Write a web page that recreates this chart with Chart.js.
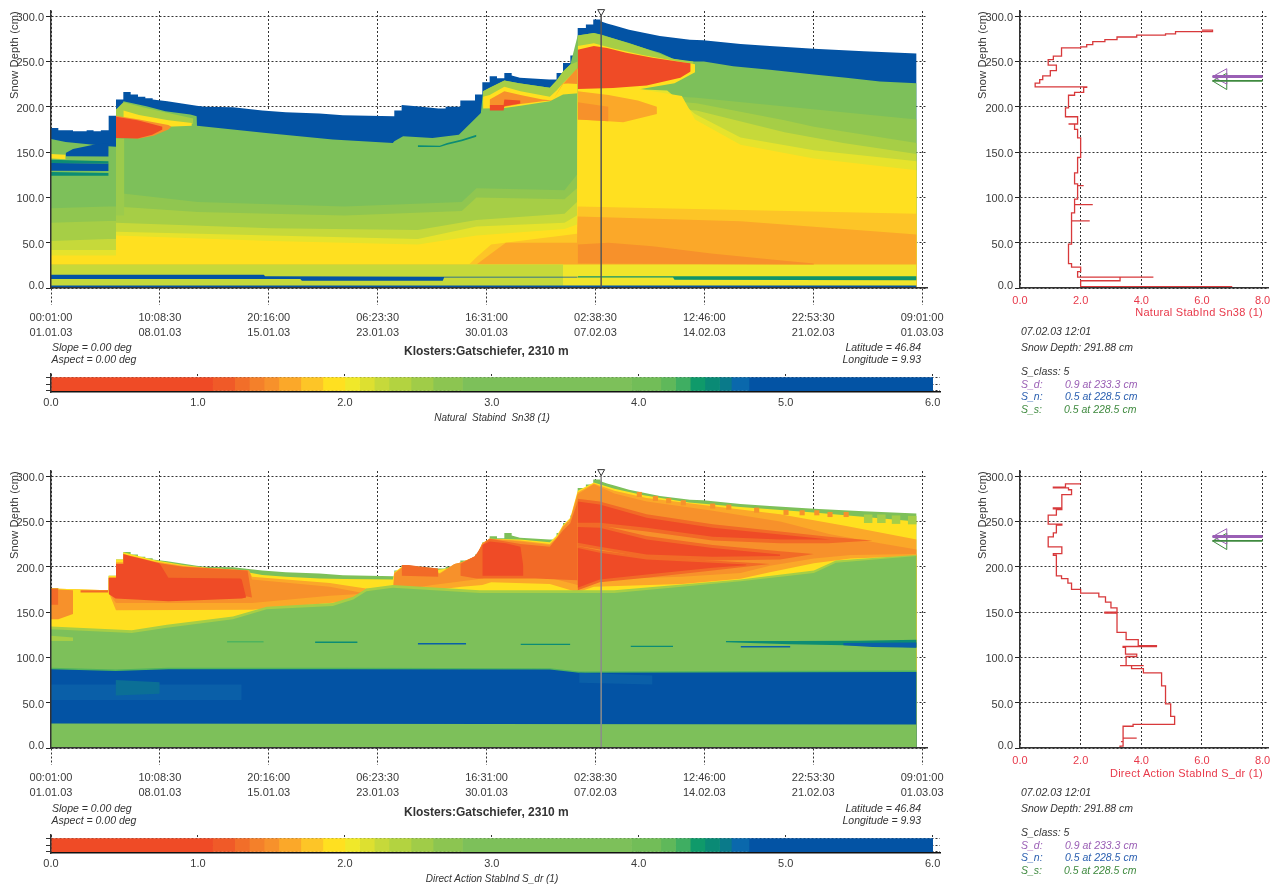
<!DOCTYPE html>
<html><head><meta charset="utf-8">
<script src="https://cdn.jsdelivr.net/npm/chart.js@4/dist/chart.umd.js"></script>
<style>
html,body{margin:0;padding:0;background:#fff;width:1276px;height:886px;overflow:hidden}
#page{position:relative;width:1276px;height:886px;font-family:"Liberation Sans",Arial,sans-serif;color:#333;filter:blur(.45px)}
canvas{position:absolute}
.t{position:absolute;white-space:pre;font-size:10.5px;line-height:12px;height:12px}
.i{font-style:italic}
</style></head><body><div id="page"></div>
<script>
// ---------- axis ticks ----------
const timeTickDays=[0,7.4219,14.8438,22.2656,29.6875,37.1094,44.5313,51.9531,59.375];
const timeTickClock=['00:01:00','10:08:30','20:16:00','06:23:30','16:31:00','02:38:30','12:46:00','22:53:30','09:01:00'];
const timeTickDate=['01.01.03','08.01.03','15.01.03','23.01.03','30.01.03','07.02.03','14.02.03','21.02.03','01.03.03'];
const depthTicks=[0,50,100,150,200,250,300];
const stabTicks=[0,2,4,6,8];
const colorbarTicks=[0,1,2,3,4,5,6];
const selectedDay=[37.5];

// ---------- colours ----------
const BLUE='#0353A4',MIDBLUE='#0A5FA8',TEAL='#0C8C74',DKGREEN='#4FB35E',GREEN='#7DC05A',G2='#90C650',LIME='#A6CE46',LIME2='#C6D93A',
      YEL0='#E6E32C',YEL='#FFE020',YEL2='#FDC527',ORG='#FBA829',ORG2='#F7912B',RED='#EF4B26',RED2='#F26A27';

// ---------- snow surface (day, depth cm) ----------
const surfaceDepth=[[0,176.7],[0.5,176.7],[0.5,174],[1.5,174],[1.5,173],[2.43,173],[2.43,174],[2.9,174],[2.9,173],[3.4,173],[3.4,174],[3.93,174],[3.93,190],[4.43,190],[4.43,208],[4.93,208],[4.93,216.4],[5.43,216.4],[5.43,213.5],[5.93,213.5],[5.93,211],[6.43,211],[6.43,209.4],[6.93,209.4],[6.93,208],[7.93,206],[8.93,203.5],[9.93,201],[10.45,200],[12.4,199.5],[14.4,196],[16,194],[18.3,192.5],[19.9,190.6],[23.4,189.5],[23.4,196],[23.9,196],[23.9,202],[24.9,200.5],[26.4,198],[26.9,198],[26.9,200],[27.9,200],[27.9,207],[28.9,207],[28.9,213.5],[29.4,213.5],[29.4,227],[29.9,227],[29.9,233.7],[30.4,233.7],[30.4,231.5],[30.9,231.5],[30.9,237.4],[31.4,237.4],[31.4,234.4],[31.96,232],[33.96,230],[34.46,230],[34.46,237.4],[34.9,237.4],[34.9,248.4],[35.4,248.4],[35.4,256.5],[35.9,256.5],[35.9,287],[36.46,287],[36.46,290.8],[36.96,290.8],[36.96,296.3],[37.46,296.3],[37.46,294.4],[37.9,292],[38.4,289.7],[39.4,285],[40.4,281.6],[41.5,278],[43.55,274],[44.46,273.5],[47,269.4],[49,267],[52,264],[55.4,261.3],[59,258.7]];

// ---------- Natural stability index Sn38: bands ----------
const snGreenTop=[[0,164.5],[1,161],[2.9,158],[3.9,156.5],[4.43,156],[4.43,197.6],[4.93,197.6],[4.93,206],[6.5,200.6],[7.8,195],[9.5,191.4],[9.93,189.5],[9.95,179],[14.66,171],[19.2,163.8],[23.3,160],[23.4,162],[24,167.5],[26,165.6],[27.8,169],[29.3,193],[29.45,217],[29.9,221],[30.9,229],[31.9,226],[34,221],[34.46,229],[34.9,239],[35.4,246.6],[35.9,278.6],[37,281.5],[37.5,279.7],[38.4,275],[39.4,270.5],[40.4,265],[41.5,259.5],[42.4,253],[43.4,250],[44.5,250],[46.5,244.8],[49,241],[52,235.5],[54.2,231.9],[56.5,228],[59,226]];
const snG2Top=[[0,88],[3.9,90],[4.38,90],[4.43,105],[10,95],[20,90],[28,95],[29,110],[35,108],[35.85,125],[35.9,218],[44,210],[59,186]];
const snLimeTop=[[0,72],[3.9,74],[4.38,74],[4.43,90],[10,84],[20,80],[28,85],[29,100],[35,98],[35.85,110],[35.9,215],[44,204],[50,185],[52,178],[59,160]];
const snLime2Top=[[0,52],[3.9,54],[4.38,54],[4.43,72],[15,66],[25,64],[29,75],[35,82],[35.85,95],[35.9,205],[44,196],[50,172],[54,160],[59,148]];
const snYel0Top=[[0,42],[3.9,42],[4.38,42],[4.43,62],[15,58],[25,54],[29,68],[35,72],[35.85,80],[35.9,222],[42,218],[43.9,192],[47,166],[52,152],[59,140]];
const snYelTop=[[0,36],[3.9,36],[4.38,36],[4.43,58],[15,52],[25,48],[29,58],[35,65],[35.85,70],[35.9,220],[40,220],[43,212],[43.9,186],[47,158],[52,143],[59,130]];
const snYel2Top=[[0,26],[28.5,26],[29,34],[30,48],[35.85,60],[35.9,90],[59,82]];
const snOrgTop=[[0,25.8],[29,25.8],[29.5,32],[31,50],[35.85,50],[35.9,79],[47,73.6],[59,59]];
const snBottomTop=[[0,25.8],[59,25.8]];
// lenses: [upper],[lower]
const snBottomLimeUp=[[0,25.8],[34.9,25.8]],snBottomLimeLow=[[0,2.6],[34.9,2.6]];
const snStripeUp=[[0,14.7],[14.5,14.5],[14.6,13],[26.7,12.5],[35.9,12.5]],snStripeLow=[[0,10],[17,10],[17.1,8],[26.7,8],[26.8,11.5],[35.9,11.5]];
const snStripe2Up=[[35.9,13],[59,13]],snStripe2Low=[[35.9,11.5],[42.4,11.5],[42.5,9],[59,8.5]];
const snBaseUp=[[0,2.8],[59,2.8]],snBaseLow=[[0,0],[59,0]];
const snOrg2Up=[[35.9,48],[38,50],[41,46],[45,38],[50,30],[52,27]],snOrg2Low=[[35.9,27],[52,26]];
const snEarlyBlockUp=[[1,149],[1.5,153.5],[2.9,158],[3.93,160]],snEarlyBlockLow=[[1,145.5],[3.93,145]];
const snEarlyStripeUp=[[0,138],[3.93,137.5]],snEarlyStripeLow=[[0,129.5],[3.93,129]];
const snEarlyTealUp=[[0,141.5],[3.93,140]],snEarlyTealLow=[[0,138],[3.93,137.5]];
const snEarlyTeal2Up=[[0,128],[3.93,127]],snEarlyTeal2Low=[[0,124],[3.93,124]];
const snEarlyYelUp=[[0,148],[1,147]],snEarlyYelLow=[[0,143],[1,142]];
const snColUp=[[4.43,165],[5,165]],snColLow=[[4.43,80],[5,80]];
const snWedgeLimeUp=[[4.43,197],[4.93,205],[6.4,199],[8,193],[9.7,187]],snWedgeLimeLow=[[4.43,188],[6,186],[9.7,181]];
const snWedgeYelUp=[[4.93,196],[6,191],[8,185],[9.6,182]],snWedgeYelLow=[[4.93,188],[7.9,178],[9.6,179]];
const snBlobOrgUp=[[4.43,190],[6,186],[7,183],[8,180],[8.2,178]],snBlobOrgLow=[[4.43,166],[6,165],[7,168],[8,175],[8.2,178]];
const snBlobRedUp=[[4.43,189],[5.9,185],[6.9,181],[7.6,178]],snBlobRedLow=[[4.43,165.6],[5.9,165],[6.9,169],[7.6,175]];
const snTealAUp=[[25,157.5],[26.5,157],[27,160],[28,164],[29,169]],snTealALow=[[25,155.5],[26.5,155.5],[27,158],[28,162],[29,167]];
const snLensLimeUp=[[29.45,217],[29.9,221],[30.9,229],[31.9,226],[34,221],[34.46,229],[34.9,239],[35.4,246.6],[35.9,250]],snLensLimeLow=[[29.45,203],[30.9,205],[32,205],[34,207],[34.9,215],[35.9,215]];
const snLensYelUp=[[29.45,211],[29.9,213],[30.9,222],[32,217],[34,211],[34.46,218],[34.9,226],[35.9,242]],snLensYelLow=[[29.45,198],[30.9,198.7],[32,201],[34,206],[34.9,213.5],[35.9,215]];
const snLensOrgUp=[[29.9,208],[30.9,217],[32,213],[33.5,208],[34.2,207],[34.9,225],[35.9,243]],snLensOrgLow=[[29.9,198],[30.9,200],[32,203],[33.5,206],[34.2,207],[34.9,226],[35.9,225]];
const snLensRedUp=[[29.9,202],[30.85,202],[30.9,208],[32,207]],snLensRedLow=[[29.9,196],[30.85,196],[30.9,200.6],[32,203.5]];
const snBigLimeUp=[[35.9,278.6],[37,281.5],[38.4,275],[40.4,265],[42.4,253],[43.8,250]],snBigLimeLow=[[35.9,265],[37,267],[39,258],[41,251],[43.8,244]];
const snBigYelUp=[[35.9,267],[37,270],[38.4,264],[40.4,257],[42.4,251],[43.9,247]],snBigYelLow=[[35.9,217],[40,219],[42.5,226],[43.9,238]];
const snBigRedUp=[[35.9,263],[37,267],[37.9,265],[39.2,259.5],[41,254],[43.4,248.4],[43.6,248],[43.6,239]],snBigRedLow=[[35.9,219.7],[38.3,220.8],[40.6,223.4],[42.9,232],[43.6,239]];
const snPaleOrgUp=[[35.9,217],[38,213],[40,207],[41.3,200]],snPaleOrgLow=[[35.9,186],[37,185],[39,183],[41.3,192]];
const snDeepOrgUp=[[35.9,205],[38,200]],snDeepOrgLow=[[35.9,186],[38,184]];

const snLayers=[
 [BLUE,surfaceDepth],[GREEN,snGreenTop],[G2,snG2Top],[LIME,snLimeTop],[LIME2,snLime2Top],[YEL0,snYel0Top],[YEL,snYelTop],
 [YEL2,snYel2Top],[ORG,snOrgTop],['#F0E52B',snBottomTop],[LIME2,snBottomLimeUp,snBottomLimeLow],
 [ORG2,snOrg2Up,snOrg2Low],['#9CCB4C',snColUp,snColLow],
 [BLUE,snStripeUp,snStripeLow],['#10946A',snStripe2Up,snStripe2Low],[BLUE,snBaseUp,snBaseLow],
 [BLUE,snEarlyBlockUp,snEarlyBlockLow],[BLUE,snEarlyStripeUp,snEarlyStripeLow],[TEAL,snEarlyTealUp,snEarlyTealLow],[TEAL,snEarlyTeal2Up,snEarlyTeal2Low],[YEL,snEarlyYelUp,snEarlyYelLow],
 [LIME,snWedgeLimeUp,snWedgeLimeLow],[YEL,snWedgeYelUp,snWedgeYelLow],[ORG2,snBlobOrgUp,snBlobOrgLow],[RED,snBlobRedUp,snBlobRedLow],
 [TEAL,snTealAUp,snTealALow],
 [LIME,snLensLimeUp,snLensLimeLow],[YEL,snLensYelUp,snLensYelLow],[ORG2,snLensOrgUp,snLensOrgLow],[RED,snLensRedUp,snLensRedLow],
 [LIME,snBigLimeUp,snBigLimeLow],[YEL,snBigYelUp,snBigYelLow],[RED,snBigRedUp,snBigRedLow],[ORG,snPaleOrgUp,snPaleOrgLow],[ORG2,snDeepOrgUp,snDeepOrgLow]
];

// ---------- Direct action stability index S_dr: bands ----------
const sdYelTop=[[0,176],[0.5,176],[0.5,174],[3.9,173.5],[3.93,190],[4.43,190],[4.43,208],[4.93,208],[4.93,216],[7,207.5],[9,202],[10.5,199],[12.4,197],[14.4,191],[16,189],[18.3,187],[20,186.5],[23.3,186],[23.4,194],[24,201],[26,196],[27,198],[28,205],[29,212],[29.4,226],[29.9,231],[31.96,230],[34,227],[34.5,235],[34.9,246],[35.4,254],[35.9,284],[37,293],[38.4,286],[40.4,279],[43.5,271],[47,266],[52,260],[59,250]];
const sdOrgPaleTop=[[0,140],[3.9,140],[3.93,188],[4.43,188],[4.43,205],[4.93,205],[4.93,214],[7,206],[9,201],[11,198.5],[13.5,196],[13.7,189],[19,182],[21,177],[23.3,172],[23.4,193],[24,200],[26,196],[26.5,193],[27.5,203],[28,205],[29,212],[29.4,226],[29.9,231],[31.96,229],[34,225],[34.5,233],[34.9,245],[35.4,253],[35.9,282],[37,292],[38.4,284],[40.6,276],[45,267],[49.7,258],[54.2,245],[59,230]];
const sdOrgTop=[[0,140],[3.9,140],[3.93,188],[4.43,188],[4.43,204],[4.93,204],[4.93,212],[7,205],[9,200],[11,198],[13.5,196],[13.7,186],[19,178],[21,172],[23.3,168],[23.4,192],[24,200],[26,196],[26.5,192],[27.5,203],[28,205],[29,212],[29.4,226],[29.9,231],[31.96,228],[34,224],[34.5,232],[34.9,244],[35.4,252],[35.9,280],[37,291],[38.4,281],[40.6,272],[45,262],[49.7,250],[53.1,236],[56.5,226],[59,219]];
const sdOrgLowTop=[[0,176],[3.9,174],[3.93,172],[4.43,160],[13.7,160],[19,168],[21,170],[23.3,173],[26,180],[28,184],[29.4,187],[30,190],[34,188],[35.9,180],[37,186],[43,189],[47,193],[49,201],[52,209],[54.5,213],[59,214]];
const sdYelLowTop=[[0,176],[3.9,174],[3.93,172],[4.43,152],[13.7,152.6],[19,160],[21,163],[23.3,168],[26,174],[28,178],[29.4,180],[30,183],[34,181],[35.9,172],[37,178],[43,181],[47,186.7],[49,194],[52,204],[54.5,209],[59,212]];
const sdLimeTop=[[0,134],[5.5,130],[7.9,136],[12.4,145],[14.7,156],[19.2,160],[20.6,167],[21.5,176],[23.3,180],[29.2,174],[35.9,174],[38.4,174],[47,186],[52,196],[53.5,207],[59,213]];
const sdGreenLowTop=[[0,131],[5.5,127],[7.9,132.7],[12.4,142],[14.7,153],[19.2,156.6],[20.6,164],[21.5,173],[23.3,176.8],[29.2,171],[35.9,171],[38.4,171],[47,184],[52,193],[53.5,204.5],[59,212]];
const sdEdgeTop=[[0,88.5],[4.4,86.5],[8,88.5],[20,88.5],[34,88],[36,84.5],[59,85.5]];
const sdBlueTop=[[0,87],[4.4,85],[8,87],[20,87],[34,86.5],[36,83],[59,84]];
const sdGreenBaseTop=[[0,27],[59,26]];
const sdEarlyOrgUp=[[0,175.5],[1.5,174]],sdEarlyOrgLow=[[0,142],[0.5,142],[1.5,148]];
const sdEarlyRedUp=[[0,176],[0.5,176]],sdEarlyRedLow=[[0,158],[0.5,158]];
const sdThinRedUp=[[2,174],[3.9,174]],sdThinRedLow=[[2,171.5],[3.9,171.5]];
const sdPaleLimeUp=[[0,124],[1.5,122]],sdPaleLimeLow=[[0,118],[1.5,118]];
const sdRedAUp=[[3.93,188],[4.43,188],[4.43,203],[4.93,203],[4.93,214],[5.4,212],[6.4,208],[7.4,204],[8,188],[12.9,187],[13,186],[13.3,166]],sdRedALow=[[3.93,170],[4.4,165],[8,162],[10,163],[13,165],[13.3,166]];
const sdHaloAUp=[[7.4,204],[9,200],[11,198],[13.4,196],[13.7,166]],sdHaloALow=[[7.4,186],[13.7,166]];
const sdRedBUp=[[23.9,202],[24.4,202],[25,200.5],[26.4,198]],sdRedBLow=[[23.9,190],[26.4,189]];
const sdRedCUp=[[27.9,203],[28.9,212],[29.4,224],[29.9,231],[31,228],[32,225],[34,222],[34.5,232],[34.9,240],[35.4,248],[35.9,272]],sdRedCLow=[[27.9,190],[29,187],[33,187],[35.9,185]];
const sdRedCoreUp=[[29.4,224],[29.9,228],[31,226],[32,222],[32.2,200]],sdRedCoreLow=[[29.4,190],[32.2,190]];
const sdHaloFanAUp=[[35.9,275],[37.4,272],[40.6,258],[45.1,247],[49.7,239],[53,233],[56,229]],sdHaloFanALow=[[35.9,245],[37.4,245],[40.6,239],[45.1,229],[49.7,226],[53,226],[56,229]];
const sdHaloFanBUp=[[35.9,247],[37.4,246],[40.6,234],[45.1,224],[49.7,217],[52,214]],sdHaloFanBLow=[[35.9,223],[37.4,219],[40.6,210],[45.1,207],[49.7,208],[52,214]];
const sdHaloFanCUp=[[35.9,223],[37.4,218],[40.6,211],[45.1,207],[49,203]],sdHaloFanCLow=[[35.9,174],[37.4,183],[40.6,188],[45.1,196],[49,203]];
const sdFanAUp=[[35.9,272],[37.4,268.7],[40.6,254],[45.1,243],[49.7,235.7],[53.1,230]],sdFanALow=[[35.9,248.5],[37.4,248.5],[40.6,243],[45.1,233],[49.7,230],[53.1,230]];
const sdFanBUp=[[35.9,244],[37.4,243],[40.6,230],[45.1,220.8],[49.7,213.5]],sdFanBLow=[[35.9,226.5],[37.4,222],[40.6,213.5],[45.1,211],[49.7,212]];
const sdFanCUp=[[35.9,220.6],[37.4,215.4],[40.6,208],[45.1,204.4],[47.4,202.6]],sdFanCLow=[[35.9,176.8],[37.4,186],[40.6,191.5],[45.1,199],[47.4,201.8]];
const sdPaleBlueUp=[[0,70],[13,70]],sdPaleBlueLow=[[0,53],[13,53]];
const sdTealPatchUp=[[4.4,75],[8,72]],sdTealPatchLow=[[4.4,58],[7.4,60]];
const sdPaleBlue2Up=[[36,83],[41,80]],sdPaleBlue2Low=[[36,72],[41,70]];
const sdStripe1Up=[[12,118],[14.5,118]],sdStripe1Low=[[12,116.5],[14.5,116.5]];
const sdStripe2Up=[[18,117.5],[20.9,117.5]],sdStripe2Low=[[18,116],[20.9,116]];
const sdStripe3Up=[[25,116],[28.3,116]],sdStripe3Low=[[25,114.3],[28.3,114.3]];
const sdStripe4Up=[[32,115],[35.4,115]],sdStripe4Low=[[32,113.6],[35.4,113.6]];
const sdStripe5Up=[[39.5,112.8],[42.4,112.8]],sdStripe5Low=[[39.5,111.6],[42.4,111.6]];
const sdStripe6Up=[[47,112.5],[50.4,112.5]],sdStripe6Low=[[47,110.8],[50.4,110.8]];
const sdStripe7Up=[[46,118],[50.4,118],[55,118.5],[59,119.5]],sdStripe7Low=[[46,116.8],[50.4,114.5],[55,113],[59,111]];
const sdStripe8Up=[[54,116],[59,116.5]],sdStripe8Low=[[54,113.5],[56,111.5],[59,110.5]];
const sdOrangeSquares=[[40.1,279.8],[41.2,275.4],[42.1,273],[43.1,270.6],[45.1,267],[46.2,265.8],[48.1,262.5],[50.1,260],[51.2,259.6],[52.2,259.6],[53.1,257.7],[54.2,257.7]];
const sdGreenSquares=[[55.7,253],[56.6,253],[57.6,252],[58.7,251.5]];

const sdLayers=[
 [GREEN,surfaceDepth],[YEL,sdYelTop],[ORG,sdOrgPaleTop],[ORG2,sdOrgTop],[ORG,sdOrgLowTop],[YEL,sdYelLowTop],[LIME,sdLimeTop],[GREEN,sdGreenLowTop],[DKGREEN,sdEdgeTop],[BLUE,sdBlueTop],[GREEN,sdGreenBaseTop],
 [ORG2,sdEarlyOrgUp,sdEarlyOrgLow],[RED2,sdEarlyRedUp,sdEarlyRedLow],[RED2,sdThinRedUp,sdThinRedLow],[LIME,sdPaleLimeUp,sdPaleLimeLow],
 [RED2,sdHaloAUp,sdHaloALow],[RED,sdRedAUp,sdRedALow],[RED2,sdRedBUp,sdRedBLow],[RED2,sdRedCUp,sdRedCLow],[RED,sdRedCoreUp,sdRedCoreLow],
 [RED2,sdHaloFanAUp,sdHaloFanALow],[RED2,sdHaloFanBUp,sdHaloFanBLow],[RED2,sdHaloFanCUp,sdHaloFanCLow],
 [RED,sdFanAUp,sdFanALow],[RED,sdFanBUp,sdFanBLow],[RED,sdFanCUp,sdFanCLow],
 [MIDBLUE,sdPaleBlueUp,sdPaleBlueLow],['#0B6F96',sdTealPatchUp,sdTealPatchLow],[MIDBLUE,sdPaleBlue2Up,sdPaleBlue2Low],
 [DKGREEN,sdStripe1Up,sdStripe1Low],[TEAL,sdStripe2Up,sdStripe2Low],[MIDBLUE,sdStripe3Up,sdStripe3Low],[TEAL,sdStripe4Up,sdStripe4Low],[TEAL,sdStripe5Up,sdStripe5Low],[MIDBLUE,sdStripe6Up,sdStripe6Low],
 [TEAL,sdStripe7Up,sdStripe7Low],[MIDBLUE,sdStripe8Up,sdStripe8Low]
];

// ---------- profiles on 07.02.03 12:01 (stability index, depth) ----------
const snProfile=[[7,1.5],[2,1.5],[2,8],[3.3,8],[3.3,12],[4.4,12],[3.3,12],[1.9,12],[1.9,18],[2,18],[2,23],[1.7,23],[1.6,27],[1.6,48.5],[1.7,48.5],[1.7,74],[2.3,74],[1.7,74],[1.7,83],[1.8,83],[1.8,92],[2.4,92],[1.8,92],[1.8,98],[1.9,98],[1.9,113],[2.1,113],[1.9,113],[1.8,115],[1.8,127],[1.9,127],[1.9,144],[2,144],[2,165.6],[1.9,165.6],[1.9,175],[1.8,175],[1.8,181],[1.6,181],[1.9,181],[1.7,189],[1.5,189],[1.5,198.7],[1.6,198.7],[1.6,212.7],[1.8,212.7],[1.8,215],[2.1,216],[2.1,221.5],[2.2,221.5],[0.5,222],[0.5,226],[0.65,226],[0.65,230],[0.75,230],[0.75,234],[1,234],[1,240],[1.2,240],[1.2,244.7],[0.93,246],[0.93,252],[1.1,252],[1.1,256],[1.37,256],[1.37,265],[1.7,265],[1.37,265],[2,265],[2,266],[2.2,266],[2.2,268.7],[2.4,268.7],[2.4,272],[2.8,272],[2.8,274],[3.2,274],[3.2,277],[3.85,277],[3.85,279],[4.8,279],[4.8,280.5],[5.13,280.5],[5.13,283],[6.35,283],[6.35,284.5],[6,284.5]];
const sdProfile=[[3.3,0],[3.4,2],[3.33,7],[3.4,7],[3.4,11],[3.85,11],[3.4,11],[3.4,20],[3.73,24],[5.1,26],[5.1,35],[4.97,35],[4.97,46],[4.8,48.6],[4.72,68.5],[4.67,68.5],[4.67,79],[4.07,83],[3.68,87.5],[4.08,91],[3.3,91],[3.5,91],[3.5,101],[3.85,101],[3.48,103.6],[3.4,111],[4.5,112],[3.9,113],[3.9,117.7],[3.5,119.6],[3.2,127.7],[3.2,149],[2.8,149],[3.2,150],[3,154.6],[2.82,161],[2.6,166.7],[2,171],[1.7,175],[1.58,182],[1.37,187],[1.2,190],[1.2,204],[1.1,212.7],[1.38,214.5],[1.38,222],[0.93,222],[0.93,228],[1.1,233],[1.2,237.5],[1.38,246],[0.93,247],[0.93,255],[1.2,257],[1.38,263],[1.1,264],[1.38,265],[1.38,274],[1.7,279.7],[1.6,285],[1.1,287],[1.5,288],[1.5,291.5],[2,291.5]];
const arrowPurple=[[6.35,233.3],[8,233.3]];
const arrowGreen=[[6.35,228.5],[8,228.5]];
const headPurple=[[6.82,242],[6.35,233.3],[6.82,225],[6.82,242]];
const headGreen=[[6.82,237],[6.35,228.5],[6.82,219],[6.82,237]];

// ---------- colour bars (from, to) ----------
const colorbarFrom=[0,1.1,1.25,1.35,1.45,1.55,1.7,1.85,2,2.1,2.2,2.3,2.45,2.6,2.8,3.95,4.15,4.25,4.35,4.45,4.55,4.63,4.75];
const colorbarTo=[1.1,1.25,1.35,1.45,1.55,1.7,1.85,2,2.1,2.2,2.3,2.45,2.6,2.8,3.95,4.15,4.25,4.35,4.45,4.55,4.63,4.75,6];
const colorbarColor=['#EF4B26','#F05A28','#F26E29','#F4802A','#F7912B','#FBA829','#FDC527','#FFE020','#F0E82A','#DDE030','#C6D93A','#B3D340','#A0CC48','#8CC551','#7DC05A','#72BD58','#5FB85A','#3FAE62','#0F9A6A','#0A8A75','#0A7A8A','#0A68AC','#0353A4'];

// ---------- library setup ----------
Chart.defaults.font.family='"Liberation Sans",Arial,sans-serif';
Chart.defaults.animation=false;
const page=document.getElementById('page');
const pts=a=>a.map(p=>({x:p[0],y:p[1]}));
function addCanvas(l,t,w,h){const c=document.createElement('canvas');c.width=w;c.height=h;c.style.cssText=`left:${l}px;top:${t}px;width:${w}px;height:${h}px`;page.appendChild(c);return c;}
function text(s,x,y,opt={}){const d=document.createElement('div');d.className='t'+(opt.italic?' i':'');d.textContent=s;
 let st=`top:${y-6}px;`;if(opt.size)st+=`font-size:${opt.size}px;`;if(opt.color)st+=`color:${opt.color};`;if(opt.bold)st+='font-weight:bold;';if(opt.ls)st+=`letter-spacing:${opt.ls}px;`;
 if(opt.align==='right')st+=`right:${1276-x}px;`;else if(opt.align==='center')st+=`left:${x}px;transform:translateX(-50%);`;else st+=`left:${x}px;`;
 d.style.cssText=st;page.appendChild(d);}
function vtext(s,x,y,opt={}){const d=document.createElement('div');d.className='t';d.textContent=s;
 d.style.cssText=`left:${x}px;top:${y}px;font-size:${opt.size||11}px;letter-spacing:${opt.ls||0}px;transform:translate(-50%,-50%) rotate(-90deg);`;page.appendChild(d);}
const fixSize=(k,v)=>s=>{s[k]=v;};
const setTicks=arr=>s=>{s.ticks=arr.map(v=>({value:v}));};
const depthAxis={type:'linear',min:0,max:305.7,afterBuildTicks:setTicks(depthTicks),
 ticks:{autoSkip:false,color:'#3a3a3a',padding:2,callback:v=>v===0?['0.0','']:['',v.toFixed(1)],
   font:c=>c.tick&&c.tick.value===0?{size:11,lineHeight:.45}:{size:11,lineHeight:.36}},
 grid:{color:'#333',lineWidth:1,tickLength:5,tickColor:'#222',tickBorderDash:[],drawTicks:true},
 border:{display:true,color:'#333',width:1.5,dash:[2,2],z:1}};

function heatChart(top,layers,markerColor,extra){
 const ds=[];
 layers.forEach(([color,up,low])=>{
  if(low){ds.push({data:pts(low),borderWidth:0,pointRadius:0,fill:false});
   ds.push({data:pts(up),backgroundColor:color,borderWidth:0,pointRadius:0,fill:ds.length-1});}
  else ds.push({data:pts(up),backgroundColor:color,borderWidth:0,pointRadius:0,fill:'origin'});
 });
 (extra||[]).forEach(e=>ds.push(e));
 ds.push({data:selectedDay.map(d=>({x:d,y:0})).concat(selectedDay.map(d=>({x:d,y:303}))),borderColor:markerColor,borderWidth:1.5,pointRadius:0,fill:false});
 ds.push({data:selectedDay.map(d=>({x:d,y:305})),showLine:false,pointStyle:'triangle',rotation:180,pointRadius:4,pointBackgroundColor:'#fff',pointBorderColor:'#333',pointBorderWidth:1,clip:false});
 ds.forEach((d,i)=>{d.order=ds.length-i;});
 new Chart(addCanvas(0,top,960,345),{type:'line',data:{datasets:ds},options:{
  responsive:false,parsing:{xAxisKey:'x',yAxisKey:'y'},spanGaps:true,
  layout:{padding:{left:0,right:33,top:11,bottom:0}},
  plugins:{legend:{display:false},tooltip:{enabled:false}},
  elements:{line:{tension:0}},
  scales:{
   x:{type:'linear',min:0,max:59.71,afterBuildTicks:setTicks(timeTickDays),afterFit:fixSize('height',57),
    ticks:{autoSkip:false,maxRotation:0,color:'#3a3a3a',padding:5,font:{size:11,lineHeight:1.4},
     callback:(v,i)=>[timeTickClock[i],timeTickDate[i]]},
    grid:{color:'#333',lineWidth:1,tickLength:17,tickColor:'#333',tickBorderDash:[2,2]},
    border:{display:true,color:'#333',width:1.5,dash:[2,2],z:1}},
   y:Object.assign({},depthAxis,{afterFit:fixSize('width',51)})
  }}});
}
function profileChart(top,series){
 const ds=[
  {data:pts(series),borderColor:'#D8393B',borderWidth:1.3,pointRadius:0,fill:false,stepped:'after'},
  {data:pts(arrowPurple),borderColor:'#9A5FB5',borderWidth:3,pointRadius:0},
  {data:pts(arrowGreen),borderColor:'#3F8A3F',borderWidth:1.8,pointRadius:0},
  {data:pts(headPurple),borderColor:'#9A5FB5',borderWidth:1,pointRadius:0},
  {data:pts(headGreen),borderColor:'#3F8A3F',borderWidth:1,pointRadius:0}];
 new Chart(addCanvas(960,top,316,345),{type:'line',data:{datasets:ds},options:{
  responsive:false,spanGaps:true,
  layout:{padding:{left:0,right:8,top:11,bottom:0}},
  plugins:{legend:{display:false},tooltip:{enabled:false}},
  elements:{line:{tension:0}},
  scales:{
   x:{type:'linear',min:0,max:8.18,afterBuildTicks:setTicks(stabTicks),afterFit:fixSize('height',57),
    ticks:{autoSkip:false,maxRotation:0,color:'#E8394A',padding:3,font:{size:11},callback:v=>v.toFixed(1)},
    grid:{color:'#333',lineWidth:1,tickLength:3,tickColor:'rgba(0,0,0,0)'},
    border:{display:true,color:'#333',width:1.5,dash:[2,2],z:1}},
   y:Object.assign({},depthAxis,{afterFit:fixSize('width',60)})
  }}});
}
function colorbar(top){
 const ds=colorbarColor.map((c,i)=>({data:[{x:[colorbarFrom[i],colorbarTo[i]],y:6.5}],backgroundColor:c,barThickness:13,grouped:false,borderWidth:0}));
 new Chart(addCanvas(0,top,960,50),{type:'bar',data:{datasets:ds},options:{
  indexAxis:'y',responsive:false,
  layout:{padding:{left:0,right:20,top:8,bottom:0}},
  plugins:{legend:{display:false},tooltip:{enabled:false}},
  scales:{
   x:{type:'linear',min:0,max:6.05,afterBuildTicks:setTicks(colorbarTicks),afterFit:fixSize('height',24),
    ticks:{autoSkip:false,maxRotation:0,color:'#3a3a3a',padding:4,font:{size:11},callback:v=>v.toFixed(1)},
    grid:{color:'#333',lineWidth:1,tickLength:0,drawTicks:false},
    border:{display:true,color:'#111',width:1.5,dash:[2,2],z:1}},
   y:{type:'linear',min:0,max:17,afterBuildTicks:setTicks([0,12]),afterFit:fixSize('width',51),
    ticks:{display:false},
    grid:{color:'#333',lineWidth:1,tickLength:5,tickColor:'#333',tickBorderDash:[]},
    border:{display:true,color:'#333',width:1.5,dash:[2,2],z:1}}
  }}});
}

// ---------- extra marks for S_dr ----------
const sdExtra=[
 {data:pts(sdOrangeSquares),showLine:false,pointStyle:'rect',pointRadius:3.6,pointBackgroundColor:'#F6922B',pointBorderWidth:0},
 {data:pts(sdGreenSquares),showLine:false,pointStyle:'rect',pointRadius:6,pointBackgroundColor:'#A5CE48',pointBorderWidth:0}
];

heatChart(0,snLayers,'#555');
heatChart(460,sdLayers,'#8c8c8c',sdExtra);
profileChart(0,snProfile);
profileChart(460,sdProfile);
colorbar(366);
colorbar(827);

// ---------- texts ----------
[[0,'Natural StabInd Sn38 (1)','Natural  Stabind  Sn38 (1)',5],[461,'Direct Action StabInd S_dr (1)','Direct Action StabInd S_dr (1)',5]].forEach(([o,prof,bar,cls])=>{
 vtext('Snow Depth (cm)',14,55+(o?460:0),{ls:.2});
 vtext('Snow Depth (cm)',982,55+(o?460:0),{ls:.2});
 text('Slope = 0.00 deg',52,346.5+o,{italic:true});
 text('Aspect = 0.00 deg',51.5,359+o,{italic:true});
 text('Klosters:Gatschiefer, 2310 m',404,351+o,{bold:true,size:12});
 text('Latitude = 46.84',921,347+o,{italic:true,align:'right'});
 text('Longitude = 9.93',921,359+o,{italic:true,align:'right'});
 text(bar,492,418+o,{italic:true,align:'center',size:10});
 text(prof,1263,312+o,{align:'right',size:11,color:'#E8394A',ls:.25});
 text('07.02.03 12:01',1021,331+o,{italic:true});
 text('Snow Depth: 291.88 cm',1021,347+o,{italic:true});
 text('S_class: '+cls,1021,370.5+o,{italic:true});
 text('S_d:',1021,384+o,{italic:true,color:'#9A5FB5'});
 text('0.9 at 233.3 cm',1065,384+o,{italic:true,color:'#9A5FB5'});
 text('S_n:',1021,396+o,{italic:true,color:'#2A5FB0'});
 text('0.5 at 228.5 cm',1065,396+o,{italic:true,color:'#2A5FB0'});
 text('S_s:',1021,408.5+o,{italic:true,color:'#3F8A3F'});
 text('0.5 at 228.5 cm',1064,408.5+o,{italic:true,color:'#3F8A3F'});
});
</script></body></html>
